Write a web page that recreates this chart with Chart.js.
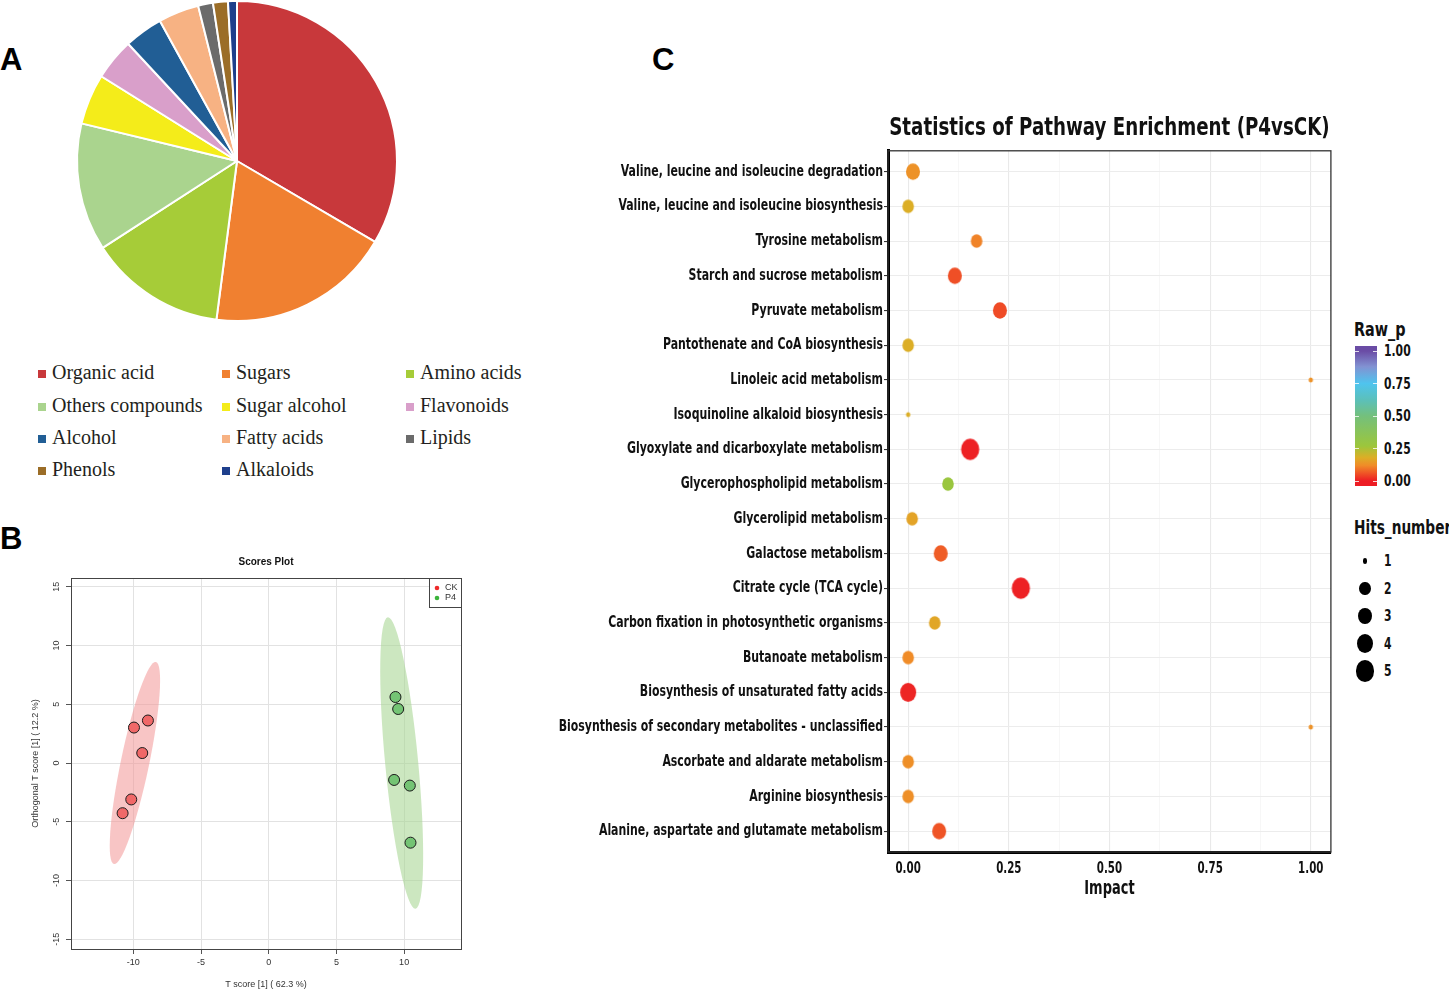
<!DOCTYPE html>
<html>
<head>
<meta charset="utf-8">
<title>Metabolite composition, OPLS-DA scores and pathway enrichment</title>
<script src="https://cdn.jsdelivr.net/npm/chart.js@4.4.1/dist/chart.umd.min.js"></script>
<style>
  body { margin: 0; width: 1449px; height: 990px; position: relative; overflow: hidden; background: #fff; font-family: "Liberation Sans", Arial, sans-serif; }
  canvas { position: absolute; }
  .tag { position: absolute; font: bold 31px "Liberation Sans", Arial, sans-serif; color: #000; line-height: 1; }
  .pie-item { position: absolute; height: 26px; line-height: 26px; font: 20px "Liberation Serif", "Times New Roman", serif; color: #231f20; white-space: nowrap; }
  .pie-item span { display: inline-block; width: 8px; height: 8px; margin-right: 6px; vertical-align: 1px; }
  .leg { position: absolute; font-family: "DejaVu Sans Condensed", "Liberation Sans Narrow", sans-serif; font-weight: bold; color: #111;
         white-space: nowrap; transform: scaleX(0.8); transform-origin: 0 50%; }
</style>
</head>
<body>
<div class="tag" style="left:0;top:44px">A</div>
<div class="tag" style="left:0;top:523px">B</div>
<div class="tag" style="left:652px;top:44px">C</div>

<canvas id="pie" width="360" height="322" style="left:57px;top:0"></canvas>
<div id="pieLegend"></div>
<canvas id="scores" width="480" height="450" style="left:0;top:540px"></canvas>
<canvas id="enrich" width="800" height="810" style="left:540px;top:100px"></canvas>
<div id="enrichLegend"></div>

<script>
// ---- Panel A: classes of identified metabolites (% of total) ----
const classNames = ["Organic acid", "Sugars", "Amino acids", "Others compounds", "Sugar alcohol", "Flavonoids",
                    "Alcohol", "Fatty acids", "Lipids", "Phenols", "Alkaloids"];
const classShare = [33.4, 18.6, 13.8, 12.9, 5.1, 4.2, 3.9, 4.1, 1.5, 1.5, 0.9];
const classColors = ["#c8383b", "#f08030", "#a6cc38", "#aad48e", "#f4ec1a", "#d99fca",
                     "#215e95", "#f7b283", "#6b6b6b", "#9b6d27", "#1e3f8c"];

// ---- Panel B: OPLS-DA scores ----
const ckT = [-9.95, -8.92, -9.34, -10.15, -10.79];
const ckO = [3.02, 3.62, 0.85, -3.1, -4.27];
const p4T = [9.36, 9.56, 9.26, 10.42, 10.47];
const p4O = [5.62, 4.6, -1.44, -1.92, -6.78];
const tTicks = [-10, -5, 0, 5, 10];
const oTicks = [-15, -10, -5, 0, 5, 10, 15];
// confidence ellipses: long-axis ends (x1, y1, x2, y2) and half width in T-score units
const ckEllipse = [-8.33, 8.6, -11.43, -8.6, 1.05];
const p4Ellipse = [8.8, 12.4, 10.84, -12.4, 1.22];

// ---- Panel C: pathway enrichment (P4 vs CK) ----
const pathways = [
  "Valine, leucine and isoleucine degradation",
  "Valine, leucine and isoleucine biosynthesis",
  "Tyrosine metabolism",
  "Starch and sucrose metabolism",
  "Pyruvate metabolism",
  "Pantothenate and CoA biosynthesis",
  "Linoleic acid metabolism",
  "Isoquinoline alkaloid biosynthesis",
  "Glyoxylate and dicarboxylate metabolism",
  "Glycerophospholipid metabolism",
  "Glycerolipid metabolism",
  "Galactose metabolism",
  "Citrate cycle (TCA cycle)",
  "Carbon fixation in photosynthetic organisms",
  "Butanoate metabolism",
  "Biosynthesis of unsaturated fatty acids",
  "Biosynthesis of secondary metabolites - unclassified",
  "Ascorbate and aldarate metabolism",
  "Arginine biosynthesis",
  "Alanine, aspartate and glutamate metabolism"
];
const impact = [0.012, 0, 0.17, 0.116, 0.228, 0, 1, 0, 0.154, 0.099, 0.01, 0.081, 0.28, 0.066, 0, 0, 1, 0, 0, 0.077];
const rawP = [0.13, 0.18, 0.11, 0.055, 0.05, 0.18, 0.13, 0.18, 0.005, 0.28, 0.16, 0.07, 0.005, 0.165, 0.12, 0.01, 0.13, 0.125, 0.125, 0.06];
const hits = [3, 2, 2, 3, 3, 2, 1, 1, 5, 2, 2, 3, 5, 2, 2, 4, 1, 2, 2, 3];
const impactTicks = [0, 0.25, 0.5, 0.75, 1];
const impactMinor = [0.125, 0.375, 0.625, 0.875];
const pLegendTicks = [0, 0.25, 0.5, 0.75, 1];
const hitLevels = [1, 2, 3, 4, 5];

// colour scale of Raw_p and point size of Hits_number
const pStops = [0, 0.06, 0.12, 0.18, 0.27, 0.5, 0.62, 0.75, 0.88, 1];
const pStopColors = ["#ed1c24", "#ef5426", "#f08c28", "#dcae26", "#9cc63c", "#74c07c", "#5cc0b8", "#4fc4ee", "#8292d2", "#6a4ca5"];
const hitRadius = [0, 2.2, 5.8, 7.0, 8.0, 9.1];
const bubbleStretch = 1.18;   // the figure was saved slightly stretched in height

const sans = '"Liberation Sans", Arial, sans-serif';
const narrow = '"DejaVu Sans Condensed", "Liberation Sans Narrow", sans-serif';

function hexToRgb(h) {
  return [parseInt(h.substr(1, 2), 16), parseInt(h.substr(3, 2), 16), parseInt(h.substr(5, 2), 16)];
}
function pColor(p) {
  let i = 0;
  while (i < pStops.length - 2 && p > pStops[i + 1]) i++;
  const t = Math.min(1, Math.max(0, (p - pStops[i]) / (pStops[i + 1] - pStops[i])));
  const a = hexToRgb(pStopColors[i]), b = hexToRgb(pStopColors[i + 1]);
  const c = a.map((v, k) => Math.round(v + (b[k] - v) * t));
  return "rgb(" + c.join(",") + ")";
}
function bubbleImage(h, color) {
  const rx = hitRadius[h], ry = rx * bubbleStretch;
  const c = document.createElement("canvas");
  c.width = Math.ceil(rx * 2) + 2;
  c.height = Math.ceil(ry * 2) + 2;
  const g = c.getContext("2d");
  g.fillStyle = color;
  g.beginPath();
  g.ellipse(c.width / 2, c.height / 2, rx, ry, 0, 0, Math.PI * 2);
  g.fill();
  return c;
}

// ---------- Panel A ----------
new Chart(document.getElementById("pie"), {
  type: "pie",
  data: {
    labels: classNames,
    datasets: [{ data: classShare, backgroundColor: classColors, borderColor: "#fff", borderWidth: 2 }]
  },
  options: {
    responsive: false,
    animation: false,
    layout: { padding: 0 },
    plugins: { legend: { display: false }, tooltip: { enabled: false } }
  }
});

const pieLegend = document.getElementById("pieLegend");
const legColX = [38, 222, 406];
const legRowY = [374, 407, 439, 471];
classNames.forEach((name, i) => {
  const d = document.createElement("div");
  d.className = "pie-item";
  d.style.left = legColX[i % 3] + "px";
  d.style.top = (legRowY[Math.floor(i / 3)] - 13) + "px";
  const sw = document.createElement("span");
  sw.style.background = classColors[i];
  d.appendChild(sw);
  d.appendChild(document.createTextNode(name));
  pieLegend.appendChild(d);
});

// ---------- Panel B ----------
const ellipsePlugin = {
  id: "ellipses",
  beforeDatasetsDraw(chart) {
    const { ctx, chartArea, scales: { x, y } } = chart;
    const unit = Math.abs(x.getPixelForValue(1) - x.getPixelForValue(0));
    [[ckEllipse, "rgba(242,150,150,0.55)"], [p4Ellipse, "rgba(170,215,150,0.6)"]].forEach(([e, col]) => {
      const x1 = x.getPixelForValue(e[0]), y1 = y.getPixelForValue(e[1]);
      const x2 = x.getPixelForValue(e[2]), y2 = y.getPixelForValue(e[3]);
      ctx.save();
      ctx.beginPath();
      ctx.rect(chartArea.left, chartArea.top, chartArea.width, chartArea.height);
      ctx.clip();
      ctx.beginPath();
      ctx.ellipse((x1 + x2) / 2, (y1 + y2) / 2, Math.hypot(x2 - x1, y2 - y1) / 2, e[4] * unit,
                  Math.atan2(y2 - y1, x2 - x1), 0, Math.PI * 2);
      ctx.fillStyle = col;
      ctx.fill();
      ctx.restore();
    });
  }
};

const scoresBox = {
  id: "scoresBox",
  afterDraw(chart) {
    const { ctx, chartArea: a } = chart;
    ctx.save();
    ctx.strokeStyle = "#444";
    ctx.lineWidth = 1;
    ctx.strokeRect(a.left + 0.5, a.top + 0.5, a.width, a.height);
    // legend box, top-right corner
    const w = 32, h = 29;
    ctx.fillStyle = "#fff";
    ctx.fillRect(a.right - w, a.top, w, h);
    ctx.strokeRect(a.right - w + 0.5, a.top + 0.5, w, h);
    ctx.font = "9px " + sans;
    ctx.textBaseline = "middle";
    [["CK", "#ee2a2a", 10], ["P4", "#3cb43c", 20]].forEach(([lab, col, dy]) => {
      ctx.beginPath();
      ctx.arc(a.right - w + 8, a.top + dy, 2.3, 0, Math.PI * 2);
      ctx.fillStyle = col;
      ctx.fill();
      ctx.fillStyle = "#333";
      ctx.fillText(lab, a.right - w + 16, a.top + dy);
    });
    ctx.restore();
  }
};

new Chart(document.getElementById("scores"), {
  type: "scatter",
  data: {
    datasets: [
      { label: "CK", data: ckT.map((t, i) => ({ x: t, y: ckO[i] })), backgroundColor: "#f06868",
        borderColor: "#1a1a1a", borderWidth: 1, pointRadius: 5.5 },
      { label: "P4", data: p4T.map((t, i) => ({ x: t, y: p4O[i] })), backgroundColor: "#74c474",
        borderColor: "#1a1a1a", borderWidth: 1, pointRadius: 5.5 }
    ]
  },
  options: {
    responsive: false,
    animation: false,
    layout: { padding: { left: 0, right: 19, top: 0, bottom: 0 } },
    plugins: {
      legend: { display: false },
      tooltip: { enabled: false },
      title: { display: true, fullSize: false, text: "Scores Plot", color: "#111",
               font: { family: sans, size: 10, weight: "bold" }, padding: { top: 16, bottom: 10 } }
    },
    scales: {
      x: {
        type: "linear", min: -14.6, max: 14.2,
        afterBuildTicks: s => { s.ticks = tTicks.map(v => ({ value: v })); },
        afterFit: s => { s.height = 41; },
        grid: { color: "#e2e2e2", tickColor: "#555", tickLength: 5 },
        border: { display: false },
        ticks: { color: "#333", font: { family: sans, size: 9 }, padding: 3, maxRotation: 0 },
        title: { display: true, text: "T score [1] ( 62.3 %)", color: "#333",
                 font: { family: sans, size: 9 }, padding: { top: 0, bottom: 0 } }
      },
      y: {
        type: "linear", min: -15.83, max: 15.75,
        afterBuildTicks: s => { s.ticks = oTicks.map(v => ({ value: v })); },
        afterFit: s => { s.width = 71; },
        grid: { color: "#e2e2e2", tickColor: "#555", tickLength: 5 },
        border: { display: false },
        ticks: { color: "#333", font: { family: sans, size: 9 }, padding: 3,
                 minRotation: 90, maxRotation: 90, crossAlign: "center" },
        title: { display: true, text: "Orthogonal T score [1] ( 12.2 %)", color: "#333",
                 font: { family: sans, size: 9 }, padding: { top: 30, bottom: 0 } }
      }
    }
  },
  plugins: [ellipsePlugin, scoresBox]
});

// ---------- Panel C ----------
// the original uses a condensed Helvetica; squeeze the condensed DejaVu face to match its width
const enrichCanvas = document.getElementById("enrich");
const enrichCtx = enrichCanvas.getContext("2d");
enrichCtx.fillText = function (text, x, y, maxWidth) {
  const m = /(\d+(\.\d+)?)px/.exec(this.font);
  const k = m && parseFloat(m[1]) >= 20 ? 0.845 : 0.76;
  this.save();
  this.translate(x, y);
  this.scale(k, 1);
  if (maxWidth === undefined) CanvasRenderingContext2D.prototype.fillText.call(this, text, 0, 0);
  else CanvasRenderingContext2D.prototype.fillText.call(this, text, 0, 0, maxWidth / k);
  this.restore();
};

const enrichFrame = {
  id: "enrichFrame",
  beforeDatasetsDraw(chart) {
    const { ctx, chartArea: a } = chart;
    ctx.save();
    ctx.strokeStyle = "#333";
    ctx.lineWidth = 1.3;
    ctx.strokeRect(a.left, a.top, a.width, a.height);
    ctx.restore();
  }
};

new Chart(enrichCanvas, {
  type: "scatter",
  data: {
    datasets: [{
      label: "Hits_number",
      data: pathways.map((n, i) => ({ x: impact[i], y: i + 1 })),
      pointStyle: hits.map((h, i) => bubbleImage(h, pColor(rawP[i]))),
      pointRadius: hits.map(h => hitRadius[h]),
      borderWidth: 0
    }]
  },
  options: {
    responsive: false,
    animation: false,
    layout: { padding: { left: 0, right: 7, top: 0, bottom: 0 } },
    plugins: {
      legend: { display: false },
      tooltip: { enabled: false },
      title: { display: true, fullSize: false, text: "Statistics of Pathway Enrichment (P4vsCK)", color: "#111",
               font: { family: narrow, size: 24, weight: "bold" }, padding: { top: 14, bottom: 8 } }
    },
    scales: {
      x: {
        type: "linear", min: -0.05, max: 1.05,
        afterBuildTicks: s => {
          s.ticks = impactTicks.concat(impactMinor).sort((a, b) => a - b).map(v => ({ value: v }));
        },
        afterFit: s => { s.height = 58; },
        grid: {
          drawTicks: false,
          color: c => impactTicks.includes(c.tick && c.tick.value) ? "#e9e9e9" : "#f4f4f4",
          lineWidth: c => impactTicks.includes(c.tick && c.tick.value) ? 1.1 : 0.7
        },
        border: { color: "#000", width: 3 },
        ticks: {
          autoSkip: false, maxRotation: 0, padding: 8, color: "#111",
          font: { family: narrow, size: 15, weight: "bold" },
          callback: v => impactTicks.includes(v) ? v.toFixed(2) : ""
        },
        title: { display: true, text: "Impact", color: "#111",
                 font: { family: narrow, size: 19, weight: "bold" }, padding: { top: 0, bottom: 10 } }
      },
      y: {
        type: "linear", reverse: true, min: 0.4, max: 20.6,
        afterBuildTicks: s => { s.ticks = pathways.map((n, i) => ({ value: i + 1 })); },
        afterFit: s => { s.width = 348; },
        grid: { color: "#ececec", lineWidth: 1.1, tickColor: "#333", tickLength: 4 },
        border: { color: "#000", width: 3 },
        ticks: {
          autoSkip: false, padding: 1, color: "#111",
          font: { family: narrow, size: 16, weight: "bold" },
          callback: v => pathways[v - 1]
        }
      }
    }
  },
  plugins: [enrichFrame]
});

// legends of panel C: Raw_p colour bar and Hits_number sizes
const eLeg = document.getElementById("enrichLegend");
function addDiv(css, text, cls) {
  const d = document.createElement("div");
  if (cls) d.className = cls;
  d.style.cssText = "position:absolute;" + css;
  if (text !== undefined) d.textContent = text;
  eLeg.appendChild(d);
  return d;
}
const barTop = 346, barH = 140, barPad = 5, barSpan = 130;
const grad = pStops.map((p, i) => pStopColors[i] + " " + ((barPad + p * barSpan) / barH * 100).toFixed(1) + "%");
addDiv("left:1354px;top:317px;font-size:20px;", "Raw_p", "leg");
addDiv("left:1355px;top:" + barTop + "px;width:22px;height:" + barH + "px;background:linear-gradient(to top," +
       pStopColors[0] + " 0%," + grad.join(",") + "," + pStopColors[pStopColors.length - 1] + " 100%);");
pLegendTicks.forEach(p => {
  const yy = barTop + barH - barPad - p * barSpan;
  addDiv("left:1355px;top:" + (yy - 0.5) + "px;width:4px;height:1px;background:rgba(255,255,255,0.8);");
  addDiv("left:1373px;top:" + (yy - 0.5) + "px;width:4px;height:1px;background:rgba(255,255,255,0.8);");
  addDiv("left:1384px;top:" + (yy - 9) + "px;font-size:15px;line-height:18px;", p.toFixed(2), "leg");
});
addDiv("left:1354px;top:516px;font-size:19px;", "Hits_number", "leg");
hitLevels.forEach((h, i) => {
  const cy = 561 + i * 27.5, rx = hitRadius[h], ry = rx * bubbleStretch;
  addDiv("left:" + (1365 - rx) + "px;top:" + (cy - ry) + "px;width:" + (2 * rx) + "px;height:" + (2 * ry) +
         "px;border-radius:50%;background:#000;");
  addDiv("left:1384px;top:" + (cy - 9) + "px;font-size:15px;line-height:18px;", String(h), "leg");
});
</script>
</body>
</html>
